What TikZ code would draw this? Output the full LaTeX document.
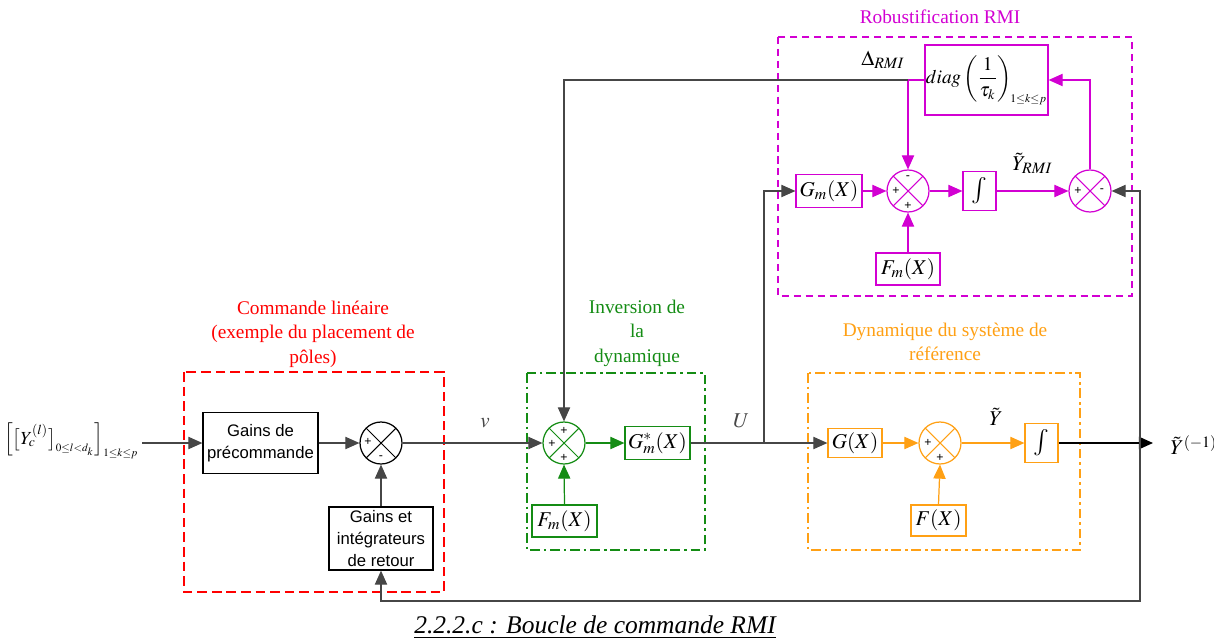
\documentclass[tikz,border=0pt]{standalone}
\usepackage{mathptmx}
\usepackage[no-math]{fontspec}
\setmainfont{Liberation Serif}
\newfontfamily\arialfont{Liberation Sans}
\usetikzlibrary{arrows.meta,calc}
\definecolor{myRed}{RGB}{255,0,0}
\definecolor{myGreen}{RGB}{20,140,20}
\definecolor{myOrange}{RGB}{255,160,20}
\definecolor{myMagenta}{RGB}{210,0,210}
\definecolor{myGray}{RGB}{70,70,70}

\tikzset{
  blk/.style={draw, rectangle, inner sep=1pt, font=\fontsize{12}{14}\selectfont},
  intblk/.style={draw, rectangle, inner sep=1pt, font=\fontsize{15}{16}\selectfont, minimum width=0.66cm, minimum height=0.78cm},
  txtblk/.style={draw, rectangle, align=center, inner sep=1pt, font=\arialfont\fontsize{9.5}{12.5}\selectfont},
  sumc/.style={draw, circle, minimum size=0.84cm, inner sep=0pt,
    path picture={\draw[line width=0.6pt] (path picture bounding box.north west) -- (path picture bounding box.south east)
      (path picture bounding box.north east) -- (path picture bounding box.south west);}},
  sgn/.style={font=\arialfont\fontsize{7}{7}\selectfont, inner sep=0pt},
  frametitle/.style={align=center, font=\fontsize{11}{14}\selectfont},
  arr/.style={-{Triangle[length=8pt,width=7pt]}},
}

\begin{document}
\begin{tikzpicture}[x=0.02cm, y=-0.02cm, line width=0.7pt]
  \useasboundingbox (0,0) rectangle (1214,642);

  % frames
  \draw[myRed, line width=1pt, dash pattern=on 5.5pt off 2.8pt] (184,372) rectangle (444,592);
  \draw[myGreen, line width=1pt, dash pattern=on 5.5pt off 2.2pt on 1.5pt off 2.2pt] (527,373) rectangle (705,550);
  \draw[myOrange, line width=1pt, dash pattern=on 5.5pt off 2.2pt on 1.5pt off 2.2pt] (808,373) rectangle (1080,550);
  \draw[myMagenta, line width=1pt, dash pattern=on 4pt off 2.8pt] (778,37) rectangle (1132,296);

  \node[frametitle, myRed] (tred) at (313,334) {Commande linéaire\\(exemple du placement de\\pôles)};
  \node[frametitle, myGreen] (tgreen) at (637,333) {Inversion de\\la\\dynamique};
  \node[frametitle, myOrange] (torange) at (945,342) {Dynamique du système de\\référence};
  \node[frametitle, myMagenta] (tmag) at (940,17) {Robustification RMI};

  % linear control
  \node[font=\fontsize{10.5}{12}\selectfont, anchor=east, inner sep=0pt] (yc) at (139,441)
    {$\Big[\big[Y_c^{(l)}\big]_{\scriptscriptstyle 0\le l<d_k}\Big]_{\scriptscriptstyle 1\le k\le p}$};
  \coordinate (inp) at (142,443);
  \node[txtblk, minimum width=2.3cm, minimum height=1.22cm] (pre) at (260.5,443) {Gains de\\précommande};
  \node[sumc] (s1) at (381,443) {};
  \node[sgn] at ($(s1)+(-13,-1)$) {+};
  \node[sgn] at ($(s1)+(0,15)$) {-};
  \node[txtblk, minimum width=2.08cm, minimum height=1.26cm] (ret) at (381,538.5) {Gains et\\intégrateurs\\de retour};

  % inversion
  \node[sumc, myGreen] (s2) at (564,443) {};
  \node[sgn] at ($(s2)+(0,-12)$) {+};
  \node[sgn] at ($(s2)+(-12,1)$) {+};
  \node[sgn] at ($(s2)+(0,15)$) {+};
  \node[blk, draw=myGreen, minimum width=1.3cm, minimum height=0.66cm] (gms) at (657.5,443) {$G_m^*(X)$};
  \node[blk, draw=myGreen, minimum width=1.3cm, minimum height=0.64cm] (fmg) at (564.5,521) {$F_m(X)$};

  % reference dynamics
  \node[blk, draw=myOrange, minimum width=1.08cm, minimum height=0.58cm] (gx) at (855,443) {$G(X)$};
  \node[sumc, myOrange] (s3) at (940,443) {};
  \node[sgn] at ($(s3)+(-12,0)$) {+};
  \node[sgn] at ($(s3)+(0,15)$) {+};
  \node[blk, draw=myOrange, minimum width=1.1cm, minimum height=0.62cm] (fx) at (938.5,520.5) {$F(X)$};
  \node[intblk, draw=myOrange] (intg) at (1041.5,443) {$\int$};

  % RMI
  \node[blk, draw=myMagenta, minimum width=1.32cm, minimum height=0.66cm] (gm) at (829,191) {$G_m(X)$};
  \node[sumc, myMagenta] (s4) at (908,191) {};
  \node[sgn] at ($(s4)+(0,-13)$) {-};
  \node[sgn] at ($(s4)+(-12,0)$) {+};
  \node[sgn] at ($(s4)+(0,15)$) {+};
  \node[blk, draw=myMagenta, minimum width=1.28cm, minimum height=0.64cm] (fm) at (908,269) {$F_m(X)$};
  \node[intblk, draw=myMagenta] (intm) at (979.5,191) {$\int$};
  \node[sumc, myMagenta] (s5) at (1090,191) {};
  \node[sgn] at ($(s5)+(-12,0)$) {+};
  \node[sgn] at ($(s5)+(12,0)$) {-};
  \node[blk, draw=myMagenta, inner sep=0pt, minimum width=2.46cm, minimum height=1.4cm,
    font=\fontsize{11}{13}\selectfont] (diag) at (986.5,80)
    {$\displaystyle diag\left(\frac{1}{\tau_k}\right)_{\!\scriptscriptstyle 1\le k\le p}$};
  \node[font=\fontsize{12}{14}\selectfont] (delta) at (883,60) {$\Delta_{RMI}$};

  \coordinate (ju) at (764,443);
  \coordinate (jo) at (1140,443);
  \coordinate (out) at (1153,443);
  \coordinate (fb) at (1140,601);
  \coordinate (jd) at (908,80);
  \node[font=\fontsize{12}{14}\selectfont, anchor=west] (yout) at (1164,445) {$\tilde{Y}^{(-1)}$};

  % connectors
  \draw[arr, myGray] (inp) -- (pre.west);
  \draw[arr, myGray] (pre.east) -- (s1.west);
  \draw[arr, myGray] (ret.north) -- (s1.south);
  \draw[arr, myGray] (s1.east) -- (s2.west) node[pos=0.59, above=5pt, font=\fontsize{12}{14}\selectfont] {$v$};
  \draw[arr, myGreen] (s2.east) -- (gms.west);
  \draw[arr, myGreen] (fmg.north) -- (s2.south);
  \draw[arr, myGray] (gms.east) -- (gx.west) node[pos=0.37, above=5pt, font=\fontsize{12}{14}\selectfont] {$U$};
  \draw[arr, myGray] (ju) |- (gm.west);
  \draw[arr, myOrange] (gx.east) -- (s3.west);
  \draw[arr, myOrange] (fx.north) -- (s3.south);
  \draw[arr, myOrange] (s3.east) -- (intg.west) node[pos=0.55, above=6pt, font=\fontsize{12}{14}\selectfont, text=black] {$\tilde{Y}$};
  \draw[arr, black, line width=0.9pt] (intg.east) -- (out);
  \draw[arr, myGray] (jo) |- (s5.east);
  \draw[arr, myGray] (jo) -- (fb) -| (ret.south);
  \draw[arr, myMagenta] (gm.east) -- (s4.west);
  \draw[arr, myMagenta] (fm.north) -- (s4.south);
  \draw[arr, myMagenta] (s4.east) -- (intm.west);
  \draw[arr, myMagenta] (intm.east) -- (s5.west) node[pos=0.5, above=6pt, font=\fontsize{12}{14}\selectfont, text=black] {$\tilde{Y}_{RMI}$};
  \draw[arr, myMagenta] (s5.north) |- (diag.east);
  \draw[myMagenta] (diag.west) -- (jd);
  \draw[arr, myMagenta] (jd) -- (s4.north);
  \draw[arr, myGray] (jd) -| (s2.north);

  % caption
  \node[font=\fontsize{14.5}{16}\selectfont\itshape] (cap) at (595,627) {\underline{2.2.2.c : Boucle de commande RMI}};
\end{tikzpicture}
\end{document}
